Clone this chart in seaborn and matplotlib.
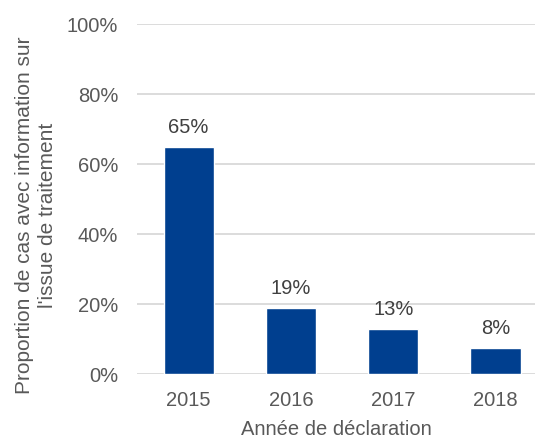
import pandas as pd
import matplotlib
matplotlib.use('Agg')
import matplotlib.pyplot as plt
import seaborn as sns
from matplotlib.ticker import PercentFormatter

# --- data ---
years = ['2015', '2016', '2017', '2018']
proportions = [0.65, 0.19, 0.13, 0.076]

df = pd.DataFrame({'Annee': years, 'Proportion': proportions})

sns.set_style('white')
plt.rcParams['font.family'] = ['Liberation Sans', 'DejaVu Sans']

fig = plt.figure(figsize=(5.35, 4.41), dpi=100)
ax = fig.add_axes([0.257, 0.151, 0.743, 0.794])

sns.barplot(data=df, x='Annee', y='Proportion', color='#003F8F',
            width=0.49, saturation=1, ax=ax)

# labels above bars
for container in ax.containers:
    ax.bar_label(container, labels=[f'{v:.0%}' for v in df['Proportion']],
                 padding=7, fontsize=14.5, color='#404040')

ax.set_ylim(0, 1)
ax.set_xlim(-0.5, 3.386)
ax.set_yticks([0, 0.2, 0.4, 0.6, 0.8, 1.0])
ax.yaxis.set_major_formatter(PercentFormatter(1.0, decimals=0))
ax.grid(axis='y', color='#D9D9D9', linewidth=1.3)
ax.set_axisbelow(True)
sns.despine(ax=ax, left=True, bottom=True)
ax.tick_params(axis='y', length=0, labelsize=14.5, colors='#595959', pad=14)
ax.tick_params(axis='x', length=0, labelsize=14.5, colors='#595959', pad=12)

ax.set_xlabel('Année de déclaration', fontsize=14.5, color='#595959', labelpad=7)
ax.set_ylabel("Proportion de cas avec information sur\nl'issue de traitement",
              fontsize=15, color='#595959', linespacing=1.25)
ax.yaxis.set_label_coords(-0.202, 0.455)

fig.savefig('out.png', dpi=100)
